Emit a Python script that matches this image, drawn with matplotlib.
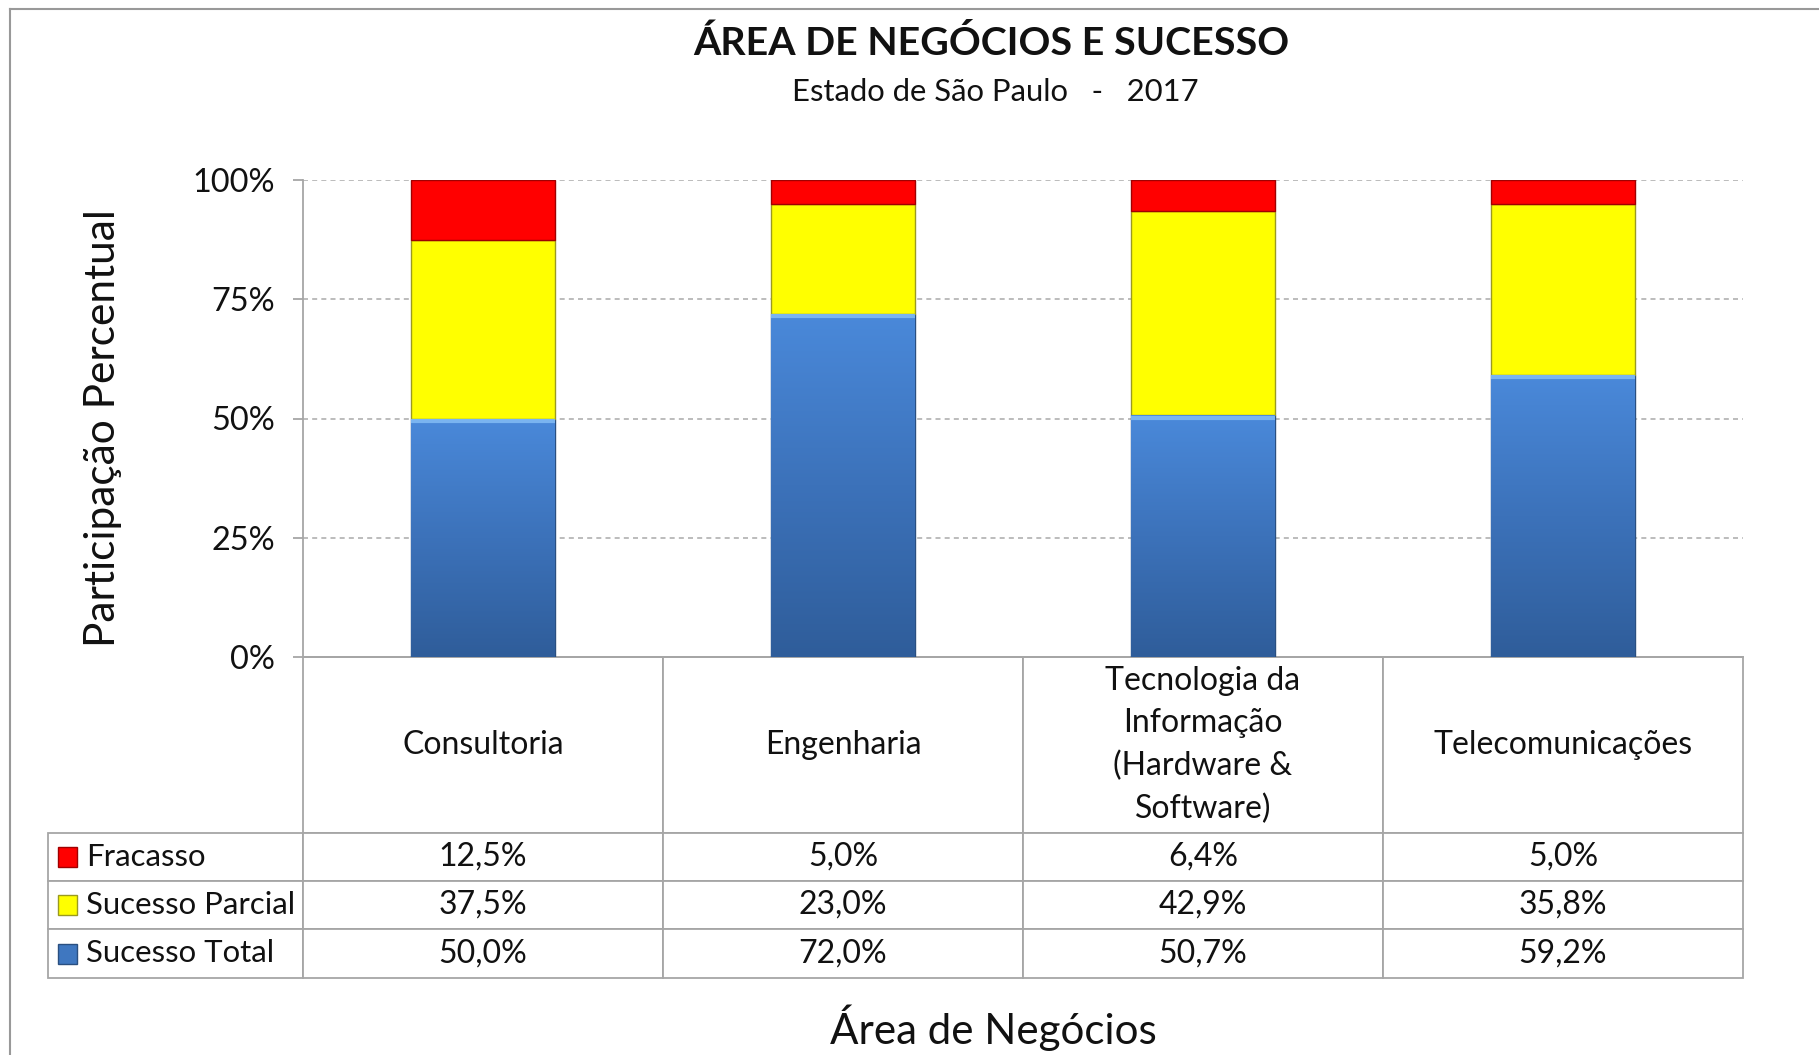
import numpy as np
import matplotlib
matplotlib.use("Agg")
import matplotlib.pyplot as plt
from matplotlib.patches import Rectangle
from matplotlib.lines import Line2D

# dados
areas = ["Consultoria", "Engenharia", "Tecnologia da\nInformação\n(Hardware &\nSoftware)", "Telecomunicações"]
sucesso_total = [50.0, 72.0, 50.7, 59.2]
sucesso_parcial = [37.5, 23.0, 42.9, 35.8]
fracasso = [12.5, 5.0, 6.4, 5.0]
series_nomes = ["Fracasso", "Sucesso Parcial", "Sucesso Total"]
yticks = [0, 25, 50, 75, 100]

plt.rcParams['font.family'] = ['Lato', 'DejaVu Sans']
txt = '#111111'
cinza = '#a6a6a6'

fig = plt.figure(figsize=(18.19, 10.55), dpi=100)
ax = fig.add_axes([303/1819, 1-657/1055, 1440/1819, 477/1055])

x = np.arange(len(areas))
w = 0.4
b_total = ax.bar(x, sucesso_total, w, color='#3f77c0', edgecolor='#2a4f80', linewidth=1.0, zorder=3)
b_parc = ax.bar(x, sucesso_parcial, w, bottom=sucesso_total, color='#ffff00', edgecolor='#9a9a20', linewidth=1.0, zorder=3)
topo = [a + b for a, b in zip(sucesso_total, sucesso_parcial)]
b_frac = ax.bar(x, fracasso, w, bottom=topo, color='#ff0000', edgecolor='#a00000', linewidth=1.0, zorder=3)

# degradê azul nas barras
grad = np.linspace(0, 1, 256).reshape(-1, 1)
cmap_azul = matplotlib.colors.LinearSegmentedColormap.from_list('az', ['#2f5d9a', '#3c72ba', '#4a89da'])
for r in b_total:
    x0, y0 = r.get_x(), r.get_y()
    im = ax.imshow(grad, extent=[x0, x0 + r.get_width(), y0, y0 + r.get_height()],
                   origin='lower', aspect='auto', cmap=cmap_azul, zorder=3.5)
    im.set_clip_path(r)
    # faixa clara no topo
    ax.plot([x0, x0 + r.get_width()], [y0 + r.get_height() - 0.5] * 2, color='#7ab4f0', lw=3, zorder=4,
            solid_capstyle='butt')

ax.set_xlim(-0.5, len(areas) - 0.5)
ax.set_ylim(0, 100)
ax.set_yticks(yticks)
ax.set_yticklabels([f"{t}%" for t in yticks], fontsize=23.4, color=txt)
ax.set_xticks([])
ax.yaxis.grid(True, linestyle=(0, (3, 2.5)), color='#b0b0b0', linewidth=1.2, zorder=0)
for s in ['top', 'right']:
    ax.spines[s].set_visible(False)
ax.spines['left'].set_color(cinza)
ax.spines['bottom'].set_color(cinza)
ax.spines['left'].set_linewidth(1.3)
ax.spines['bottom'].set_linewidth(1.3)
ax.tick_params(axis='y', length=7, color=cinza, width=1.3, pad=13)

ax.set_ylabel("Participação Percentual", fontsize=30.5, color=txt)
ax.yaxis.set_label_coords(-0.126, 0.479)

# tabela de dados (primeira coluna = nomes das séries)
valores = [fracasso, sucesso_parcial, sucesso_total]
cell_text = [[nome] + [f"{v:.1f}%".replace('.', ',') for v in serie] for nome, serie in zip(series_nomes, valores)]
larg = [255] + [360] * 4
tab = ax.table(cellText=cell_text, colLabels=[""] + areas,
               colWidths=[l / 1695 for l in larg], cellLoc='center',
               bbox=[-255/1440, -321/477, 1695/1440, 321/477])
tab.auto_set_font_size(False)
alturas = [176, 48, 48, 49]
for (r, c), cell in tab.get_celld().items():
    cell.set_edgecolor(cinza)
    cell.set_linewidth(1.3)
    cell.set_height(alturas[r] / 1000)
    cell.get_text().set_fontsize(23)
    cell.get_text().set_color(txt)
    if r == 0:
        cell.get_text().set_linespacing(1.5)
    if c == 0:
        cell._loc = 'left'
        cell.get_text().set_ha('left')
        cell.get_text().set_fontsize(22.4)
        cell.PAD = 38 / 255
        if r == 0:
            cell.visible_edges = ''

# quadradinhos da legenda dentro da tabela
cores = ['#ff0000', '#ffff00', '#3f77c0']
bordas = ['#a00000', '#9a9a20', '#2a4f80']
y_lin = 657 + 176
for i, (cor, borda) in enumerate(zip(cores, bordas)):
    h = alturas[i + 1]
    yc = y_lin + h / 2
    y_lin += h
    ax.add_patch(Rectangle(((58 - 303) / 1440, (657 - yc - 10) / 477), 19 / 1440, 20 / 477,
                           transform=ax.transAxes, facecolor=cor, edgecolor=borda, lw=1,
                           clip_on=False, zorder=6))

fig.text(0.545, 1 - 43/1055, "ÁREA DE NEGÓCIOS E SUCESSO", ha='center', va='center',
         fontsize=28.4, fontweight='bold', color=txt)
fig.text(0.547, 1 - 92/1055, "Estado de São Paulo   -   2017", ha='center', va='center',
         fontsize=22.3, color=txt)
fig.text(0.546, 1 - 1028/1055, "Área de Negócios", ha='center', va='center',
         fontsize=30.3, color=txt)

# moldura do gráfico
fig.add_artist(Line2D([10/1819, 1], [1 - 9/1055] * 2, color='#999999', lw=1.5))
fig.add_artist(Line2D([10/1819] * 2, [0, 1 - 9/1055], color='#999999', lw=1.5))

fig.savefig("out.png", dpi=100)
